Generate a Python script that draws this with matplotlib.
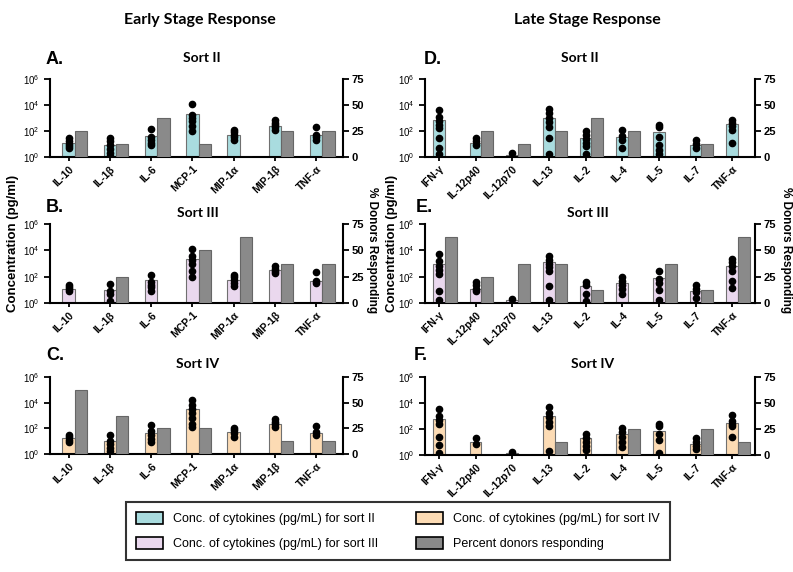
import numpy as np
import matplotlib.pyplot as plt
from matplotlib.patches import Patch

plt.rcParams['font.family'] = ['Liberation Sans', 'DejaVu Sans']

early_labels = ["IL-10", "IL-1β", "IL-6", "MCP-1", "MIP-1α", "MIP-1β", "TNF-α"]
late_labels = ["IFN-γ", "IL-12p40", "IL-12p70", "IL-13", "IL-2", "IL-4", "IL-5", "IL-7", "TNF-α"]

# concentration bars (pg/mL)
conc_a = [12, 9, 39, 2100, 52, 230, 52]
conc_b = [12, 9, 59, 2200, 59, 340, 50]
conc_c = [19, 11, 44, 3400, 53, 215, 42]
conc_d = [740, 12, 1.5, 1070, 29, 35, 83, 8.4, 325]
conc_e = [900, 12, 1.7, 1230, 21, 33, 80, 7.8, 690]
conc_f = [640, 9.3, 1.5, 950, 19, 41, 69, 7.4, 295]

# individual donor values (pg/mL)
pts_a = [[29, 16, 10, 7, 5], [29, 16, 8, 4, 2, 1.1], [140, 32, 20, 13, 8],
         [12000, 1800, 1000, 550, 230, 93], [126, 80, 50, 32, 21],
         [660, 400, 280, 200, 126], [200, 50, 32, 20]]
pts_b = [[22, 16, 11, 8], [28, 8, 4.5, 1.5], [140, 40, 25, 16, 8],
         [12600, 4000, 2000, 1000, 250, 100], [140, 90, 56, 35, 20],
         [700, 400, 280, 180], [210, 50, 32]]
pts_c = [[32, 20, 12.6, 9], [31, 11, 6, 3, 1.8], [190, 63, 32, 16, 8],
         [15500, 6300, 3200, 1600, 630, 200, 126], [112, 71, 45, 20],
         [500, 316, 200, 126], [158, 50, 32]]
pts_d = [[4000, 1260, 630, 316, 158, 29, 5, 1.6], [29, 16, 9], [2],
         [5000, 2500, 1000, 500, 200, 29, 1.8], [100, 50, 25, 12.6, 7, 1.8],
         [126, 40, 20, 5], [316, 200, 32, 8, 3.5, 1.6], [20, 10, 5],
         [700, 400, 224, 126, 13]]
pts_e = [[5000, 1600, 630, 316, 158, 8, 1.8], [40, 22, 12.6, 8], [2],
         [3500, 2000, 1000, 500, 250, 20, 1.8], [40, 25, 5, 1.4],
         [100, 50, 25, 12.6, 4.5], [280, 63, 32, 10, 1.6], [22, 12.6, 7, 2.5],
         [2200, 1260, 630, 250, 50, 14]]
pts_f = [[3200, 1000, 500, 250, 25, 5.6, 1.4], [22, 7], [1.8],
         [5000, 1600, 800, 355, 158, 2], [45, 22, 10, 5, 2.5],
         [126, 63, 25, 10, 4], [250, 158, 40, 14, 1.4], [20, 10, 5, 2.8],
         [1150, 400, 250, 158, 25]]

# percent donors responding
pct_a = [25, 12.5, 37.5, 12.5, 0, 25, 25]
pct_b = [0, 25, 0, 50, 62.5, 37.5, 37.5]
pct_c = [62.5, 37.5, 25, 25, 0, 12.5, 12.5]
pct_d = [0, 25, 12.5, 25, 37.5, 25, 0, 12.5, 0]
pct_e = [62.5, 25, 37.5, 37.5, 12.5, 0, 37.5, 12.5, 62.5]
pct_f = [0, 0, 0, 12.5, 0, 25, 0, 25, 12.5]

c2 = '#a9dcdf'
c3 = '#ead8ee'
c4 = '#fcdbb4'
grey = '#8a8a8a'

fig = plt.figure(figsize=(7.93, 5.72), dpi=100)
W, H = 793, 572


def rect(x0, x1, y0, y1):
    return [x0 / W, 1 - y1 / H, (x1 - x0) / W, (y1 - y0) / H]


def panel(r, labels, conc, pts, pct, color, letter, title, w, xlim,
          letter_xy, title_xy):
    ax = fig.add_axes(r)
    x = np.arange(len(labels))
    ax.bar(x, np.array(conc) - 1, bottom=1, width=w, color=color,
           edgecolor='#707070', lw=0.8, zorder=2)
    for i, p in enumerate(pts):
        ax.plot([i] * len(p), p, 'o', color='black', ms=4.5, zorder=3)
    ax.set_yscale('log')
    ax.set_ylim(1, 1e6)
    ax.set_yticks([1, 1e2, 1e4, 1e6])
    ax.minorticks_off()
    ax.set_xlim(*xlim)
    ax.set_xticks(x)
    ax.set_xticklabels(labels, rotation=45, ha='right', rotation_mode='anchor',
                       fontsize=7.5, fontweight='bold')
    ax.tick_params(axis='y', labelsize=7, length=4, width=1.3)
    ax.tick_params(axis='x', length=3, width=1.3, pad=2)
    for s in ['top', 'right']:
        ax.spines[s].set_visible(False)
    for s in ['left', 'bottom']:
        ax.spines[s].set_linewidth(1.5)

    ax2 = ax.twinx()
    ax2.bar(x + w, pct, width=w, color=grey, edgecolor='#666666', lw=0.8)
    ax2.set_ylim(0, 75)
    ax2.set_yticks([0, 25, 50, 75])
    ax2.tick_params(axis='y', labelsize=8, length=4, width=1.3, pad=2)
    for s in ['top', 'left', 'bottom']:
        ax2.spines[s].set_visible(False)
    ax2.spines['right'].set_linewidth(1.5)
    for t in ax2.get_yticklabels():
        t.set_fontweight('bold')

    fig.text(letter_xy[0] / W, 1 - letter_xy[1] / H, letter, fontsize=13,
             fontweight='bold', ha='left', va='bottom')
    fig.text(title_xy[0] / W, 1 - title_xy[1] / H, title, fontsize=10,
             fontweight='bold', ha='center', va='bottom', family='Lato')
    return ax


ew, lw_ = 0.3, 0.32
exl, lxl = (-0.45, 6.65), (-0.38, 8.62)

panel(rect(50, 343, 79, 157), early_labels, conc_a, pts_a, pct_a, c2, 'A.', 'Sort II',
      ew, exl, (46, 68), (202, 64))
panel(rect(50, 343, 224, 303), early_labels, conc_b, pts_b, pct_b, c3, 'B.', 'Sort III',
      ew, exl, (46, 216), (198, 219))
panel(rect(50, 343, 377, 454), early_labels, conc_c, pts_c, pct_c, c4, 'C.', 'Sort IV',
      ew, exl, (46, 364), (198, 370))
panel(rect(425, 755, 79, 157), late_labels, conc_d, pts_d, pct_d, c2, 'D.', 'Sort II',
      lw_, lxl, (424, 68), (580, 64))
panel(rect(425, 755, 224, 303), late_labels, conc_e, pts_e, pct_e, c3, 'E.', 'Sort III',
      lw_, lxl, (416, 216), (588, 219))
panel(rect(425, 755, 377, 455), late_labels, conc_f, pts_f, pct_f, c4, 'F.', 'Sort IV',
      lw_, lxl, (414, 364), (593, 370))

fig.text(200 / W, 1 - 20 / H, 'Early Stage Response', fontsize=11.5, fontweight='bold',
         ha='center', va='center', family='Lato')
fig.text(587 / W, 1 - 20 / H, 'Late Stage Response', fontsize=11.5, fontweight='bold',
         ha='center', va='center', family='Lato')

for xl, xr in [(13, 372), (392, 786)]:
    fig.text(xl / W, 1 - 243 / H, 'Concentration (pg/ml)', rotation=90, fontsize=9.5,
             fontweight='bold', ha='center', va='center')
    fig.text(xr / W, 1 - 250 / H, '% Donors Responding', rotation=270, fontsize=8.5,
             fontweight='bold', ha='center', va='center')

handles = [Patch(facecolor=c2, edgecolor='black', lw=1.2),
           Patch(facecolor=c3, edgecolor='black', lw=1.2),
           Patch(facecolor=c4, edgecolor='black', lw=1.2),
           Patch(facecolor=grey, edgecolor='black', lw=1.2)]
names = ['Conc. of cytokines (pg/mL) for sort II',
         'Conc. of cytokines (pg/mL) for sort III',
         'Conc. of cytokines (pg/mL) for sort IV',
         'Percent donors responding']
leg = fig.legend(handles, names, ncol=2, loc='center',
                 bbox_to_anchor=(398 / W, 1 - 531 / H), fontsize=9,
                 frameon=True, fancybox=False, edgecolor='black',
                 handlelength=2.2, handleheight=1.1, columnspacing=3.0,
                 labelspacing=0.9, borderpad=0.8)
leg.get_frame().set_linewidth(1.5)

fig.savefig('out.png', dpi=100)
